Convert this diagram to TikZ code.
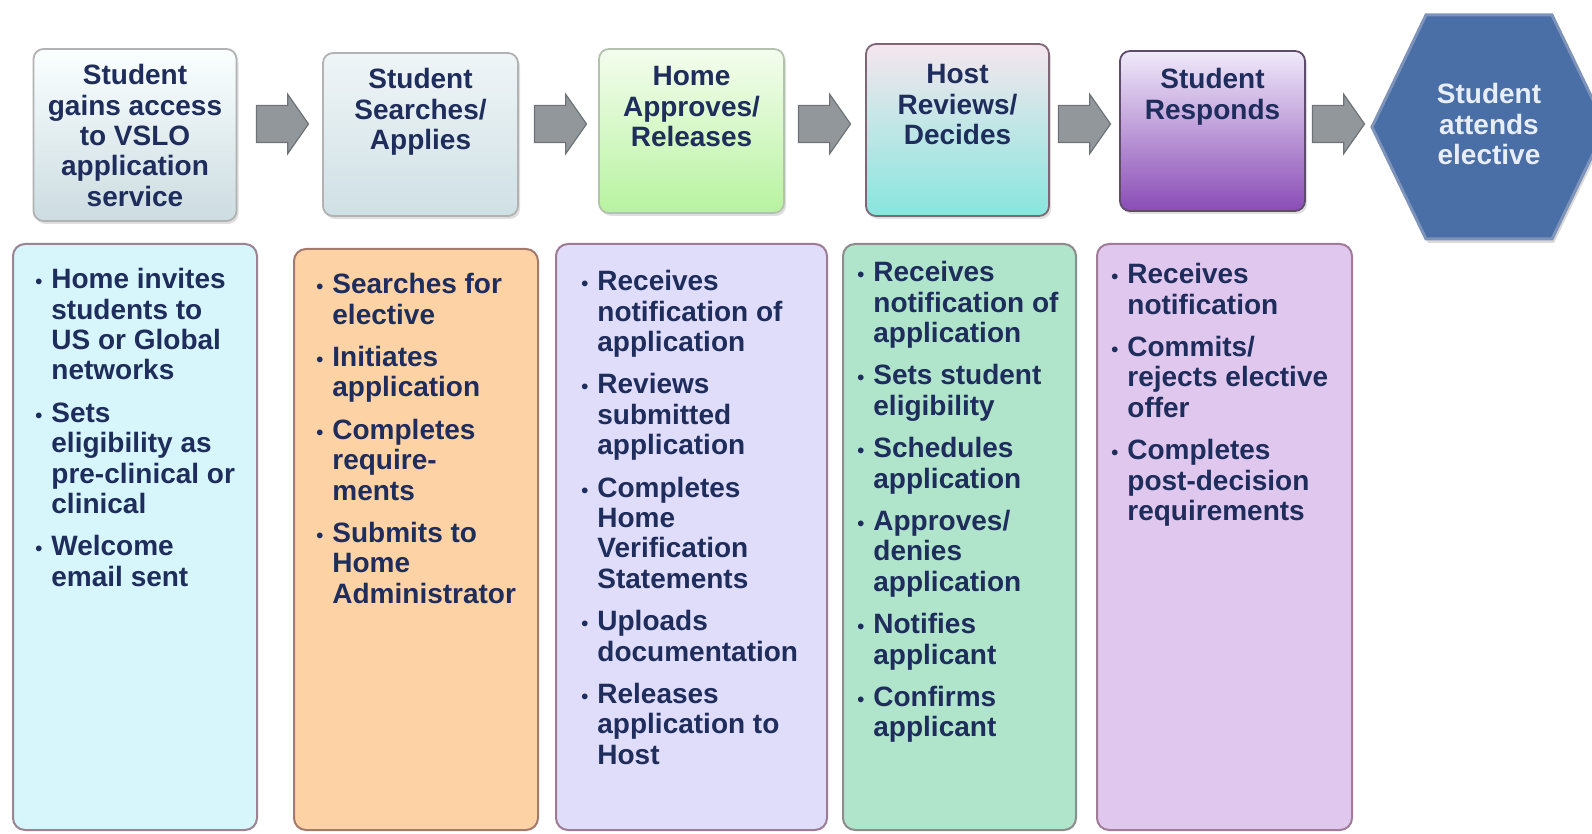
\documentclass[tikz,border=0pt]{standalone}
\usepackage{fontspec}
\setmainfont{Liberation Sans}
\usetikzlibrary{positioning}
\usetikzlibrary{shapes.arrows}
\usetikzlibrary{shadows}

\definecolor{navy}{HTML}{1F2D5C}
\definecolor{arrowgray}{HTML}{92979B}
\definecolor{arrowedge}{HTML}{6D7377}
\definecolor{hexblue}{HTML}{4A6EA6}
\definecolor{hexedge}{HTML}{7D93BA}
\definecolor{hexwhite}{HTML}{E8EEF7}

\newcommand\bul{\llap{\fontsize{10}{10}\selectfont\textbullet\hspace{4.5pt}}}

\begin{document}
\begin{tikzpicture}[x=0.5pt,y=-0.5pt,
  stepbox/.style={draw,rounded corners=5pt,line width=0.9pt,inner sep=0pt,
    drop shadow={opacity=0.25,shadow xshift=1pt,shadow yshift=-1.5pt}},
  steptext/.style={anchor=north,inner sep=0pt,align=center,text=navy,
    font=\fontsize{14}{15.2}\selectfont\bfseries},
  listbox/.style={draw,rounded corners=6pt,line width=1pt,inner sep=0pt,
    minimum height=293pt},
  listtext/.style={anchor=north west,inner sep=0pt,align=left,text=navy,
    font=\fontsize{14}{15.2}\selectfont\bfseries},
  flow/.style={single arrow,draw=arrowedge,fill=arrowgray,line width=0.6pt,
    inner xsep=0pt,inner ysep=9pt,minimum height=26pt,single arrow head extend=5.5pt,
    single arrow tip angle=110}]
 \useasboundingbox (0,0) rectangle (1592,834);

 \node[stepbox,draw=gray!60,top color=white!90!cyan!20,bottom color={rgb,255:red,204;green,220;blue,225},
   minimum width=101.5pt,minimum height=86pt] (s1) at (135,135) {};
 \node[stepbox,draw=gray!60,top color={rgb,255:red,239;green,245;blue,247},bottom color={rgb,255:red,207;green,224;blue,229},
   minimum width=97.5pt,minimum height=81.5pt] (s2) at (420.5,134.5) {};
 \node[stepbox,draw={rgb,255:red,179;green,194;blue,172},top color={rgb,255:red,244;green,253;blue,238},bottom color={rgb,255:red,184;green,243;blue,160},
   minimum width=92.5pt,minimum height=82pt] (s3) at (691.5,131) {};
 \node[stepbox,draw={rgb,255:red,126;green,102;blue,116},top color={rgb,255:red,245;green,230;blue,238},middle color={rgb,255:red,208;green,240;blue,240},bottom color={rgb,255:red,136;green,230;blue,222},
   minimum width=91.5pt,minimum height=86pt] (s4) at (957.5,130) {};
 \node[stepbox,draw={rgb,255:red,94;green,76;blue,108},top color={rgb,255:red,240;green,234;blue,250},middle color={rgb,255:red,220;green,200;blue,238},bottom color={rgb,255:red,138;green,76;blue,182},
   minimum width=92.5pt,minimum height=80pt] (s5) at (1212.5,131) {};

 \node[steptext] (s1t) at (135,64) {Student\\gains access\\to VSLO\\application\\service};
 \node[steptext] (s2t) at (420.5,68) {Student\\Searches/\\Applies};
 \node[steptext] (s3t) at (691.5,66) {Home\\Approves/\\Releases};
 \node[steptext] (s4t) at (957.5,64) {Host\\Reviews/\\Decides};
 \node[steptext] (s5t) at (1212.5,68) {Student\\Responds};

 \fill[hexblue,draw=hexedge,line width=1.5pt,drop shadow={opacity=0.3,shadow xshift=1pt,shadow yshift=-2pt}]
   (1372,127) -- (1426,15) -- (1552,15) -- (1606,127) -- (1552,239) -- (1426,239) -- cycle;
 \node[steptext,anchor=center,text=hexwhite] (hx) at (1489,124) {Student\\attends\\elective};

 \node[flow] (a1) at (276,124) {};
 \node[flow] (a2) at (554,124) {};
 \node[flow] (a3) at (818,124) {};
 \node[flow] (a4) at (1078,124) {};
 \node[flow] (a5) at (1332,124) {};

 \node[listbox,draw={rgb,255:red,155;green,131;blue,146},fill={rgb,255:red,214;green,246;blue,252},minimum width=122pt] (b1) at (135,537) {};
 \node[listbox,draw={rgb,255:red,164;green,122;blue,108},fill={rgb,255:red,253;green,211;blue,166},minimum width=122pt,minimum height=290.5pt] (b2) at (416,539.5) {};
 \node[listbox,draw={rgb,255:red,157;green,123;blue,147},fill={rgb,255:red,223;green,221;blue,249},minimum width=135.5pt] (b3) at (691.5,537) {};
 \node[listbox,draw={rgb,255:red,140;green,140;blue,140},fill={rgb,255:red,176;green,229;blue,203},minimum width=116.5pt] (b4) at (959.5,537) {};
 \node[listbox,draw={rgb,255:red,162;green,123;blue,153},fill={rgb,255:red,223;green,199;blue,237},minimum width=127.5pt] (b5) at (1224.5,537) {};

 \node[listtext] (b1t) at (51,268) {\bul Home invites\\students to\\US or Global\\networks\\[6pt]
   \bul Sets\\eligibility as\\pre-clinical or\\clinical\\[6pt]
   \bul Welcome\\email sent};
 \node[listtext] (b2t) at (332,273) {\bul Searches for\\elective\\[6pt]
   \bul Initiates\\application\\[6pt]
   \bul Completes\\require-\\ments\\[6pt]
   \bul Submits to\\Home\\Administrator};
 \node[listtext] (b3t) at (597,270) {\bul Receives\\notification of\\application\\[6pt]
   \bul Reviews\\submitted\\application\\[6pt]
   \bul Completes\\Home\\Verification\\Statements\\[6pt]
   \bul Uploads\\documentation\\[6pt]
   \bul Releases\\application to\\Host};
 \node[listtext] (b4t) at (873,261) {\bul Receives\\notification of\\application\\[6pt]
   \bul Sets student\\eligibility\\[6pt]
   \bul Schedules\\application\\[6pt]
   \bul Approves/\\denies\\application\\[6pt]
   \bul Notifies\\applicant\\[6pt]
   \bul Confirms\\applicant};
 \node[listtext] (b5t) at (1127,263) {\bul Receives\\notification\\[6pt]
   \bul Commits/\\rejects elective\\offer\\[6pt]
   \bul Completes\\post-decision\\requirements};
\end{tikzpicture}
\end{document}
